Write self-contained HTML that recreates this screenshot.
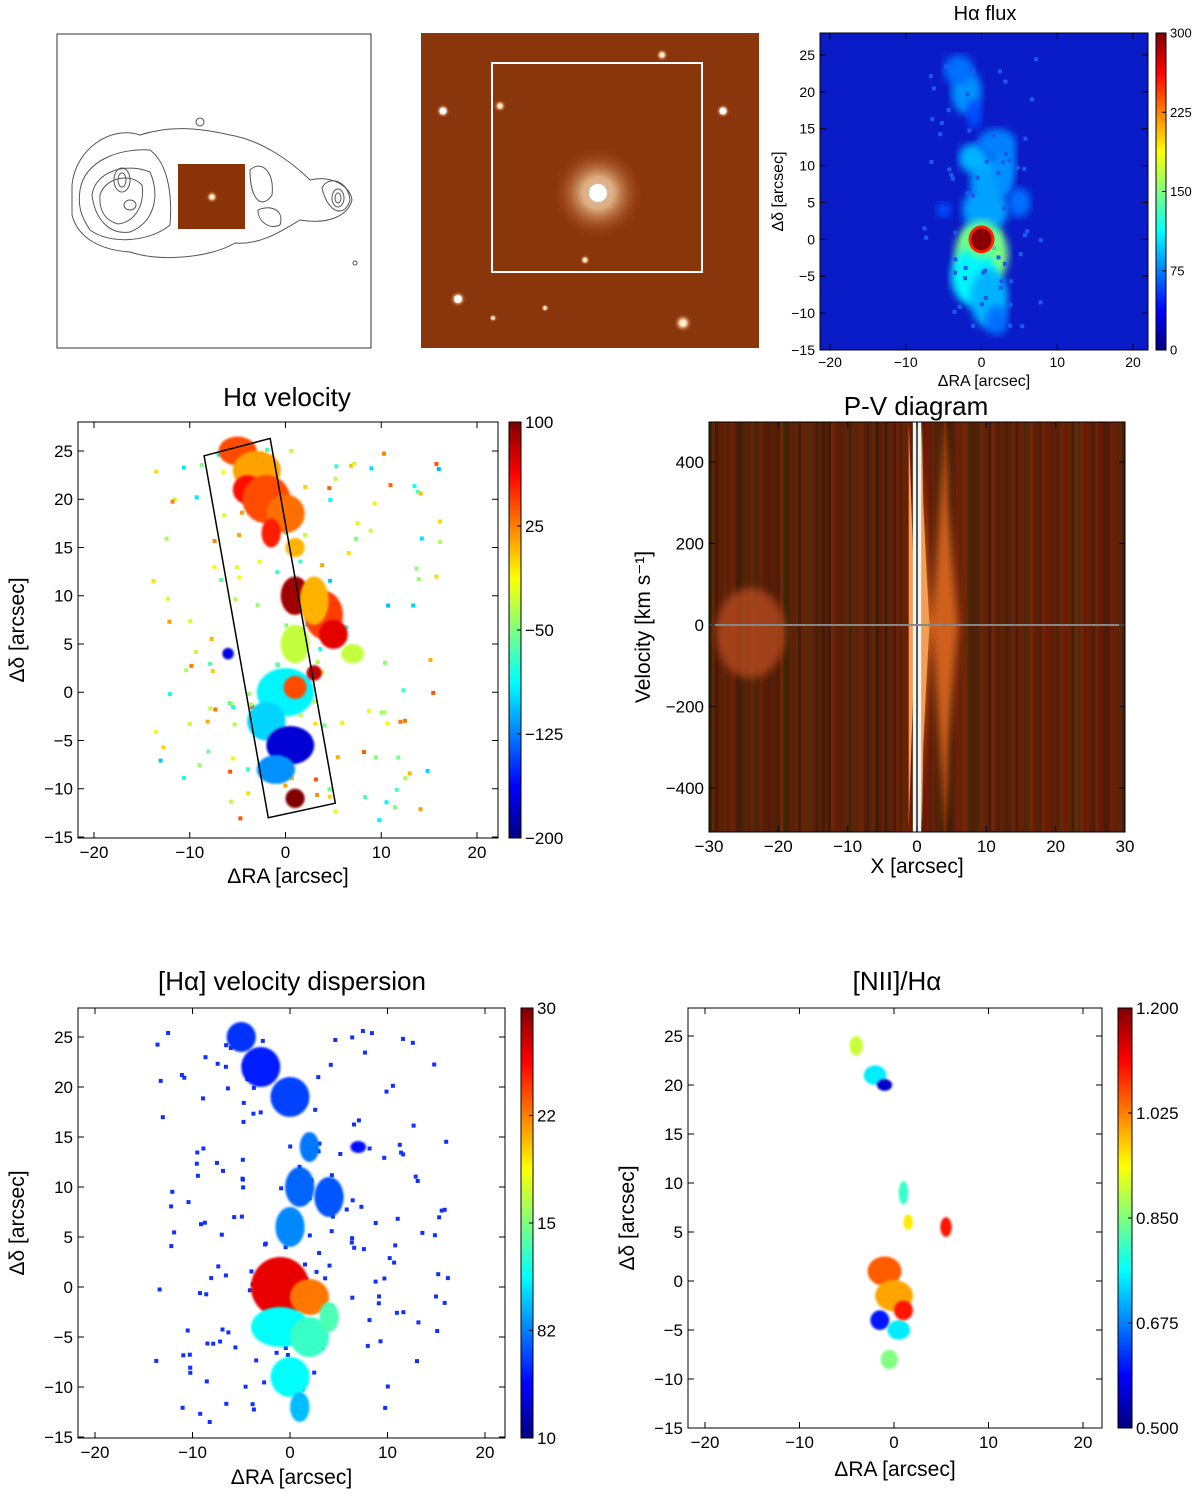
<!DOCTYPE html>
<html><head><meta charset="utf-8"><style>
html,body{margin:0;padding:0;background:#fff;width:1200px;height:1498px;overflow:hidden}
svg{display:block;font-family:"Liberation Sans",sans-serif}
</style></head><body>
<svg id="fig" width="1200" height="1498" viewBox="0 0 1200 1498" xmlns="http://www.w3.org/2000/svg">
<defs>
<linearGradient id="jet" x1="0" y1="1" x2="0" y2="0">
<stop offset="0" stop-color="#00007f"/><stop offset="0.125" stop-color="#0000ff"/><stop offset="0.375" stop-color="#00ffff"/><stop offset="0.5" stop-color="#7fff7f"/><stop offset="0.625" stop-color="#ffff00"/><stop offset="0.875" stop-color="#ff0000"/><stop offset="1" stop-color="#7f0000"/>
</linearGradient>
<radialGradient id="glow"><stop offset="0" stop-color="#fff"/><stop offset="0.35" stop-color="#ffe0b0"/><stop offset="1" stop-color="#b0400f" stop-opacity="0"/></radialGradient>
<filter id="blur1"><feGaussianBlur stdDeviation="1"/></filter>
<filter id="blur4"><feGaussianBlur stdDeviation="4"/></filter>
</defs>

<g>
<rect x="57" y="34" width="314" height="314" fill="#fff" stroke="#333" stroke-width="1"/>
<g fill="none" stroke="#555" stroke-width="1">
<path d="M72,185 C75,150 110,125 140,135 C170,125 200,128 230,135 C260,140 290,160 310,180 C330,175 350,185 352,200 C348,215 330,225 300,220 C280,232 260,245 235,243 C210,258 160,262 130,252 C100,250 78,238 72,215 Z"/>
<path d="M80,190 C85,160 120,148 150,150 C170,165 172,200 170,225 C150,242 110,245 90,230 C80,215 78,205 80,190 Z"/>
<path d="M92,195 C95,172 125,162 150,172 C160,195 155,222 130,232 C110,235 95,220 92,195 Z"/>
<path d="M100,195 C105,178 130,172 142,185 C145,205 135,222 118,224 C104,220 99,210 100,195 Z"/>
<ellipse cx="122" cy="180" rx="8" ry="12"/><ellipse cx="122" cy="180" rx="4" ry="7"/><ellipse cx="130" cy="205" rx="6" ry="5"/>
<path d="M250,170 C260,160 275,170 272,195 C262,210 250,200 250,170 Z"/>
<path d="M258,210 C268,205 285,208 280,225 C270,230 258,222 258,210 Z"/>
<path d="M322,188 C328,175 348,180 350,200 C345,218 328,214 322,188 Z"/>
<ellipse cx="338" cy="198" rx="6" ry="9"/><ellipse cx="338" cy="198" rx="3" ry="5"/>
<circle cx="200" cy="122" r="4"/><circle cx="355" cy="263" r="2"/>
</g>
<rect x="178" y="164" width="67" height="65" fill="#8a3208"/>
<circle cx="212" cy="197" r="6" fill="url(#glow)"/>
</g>

<g>
<rect x="421" y="33" width="338" height="315" fill="#8a360c"/>
<circle cx="598" cy="193" r="45" fill="url(#glow)" opacity="0.7"/>
<circle cx="598" cy="193" r="9" fill="#fff"/>
<circle cx="443" cy="111" r="7" fill="url(#glow)"/><circle cx="443" cy="111" r="3.5" fill="#fff"/>
<circle cx="458" cy="299" r="8" fill="url(#glow)"/><circle cx="458" cy="299" r="4" fill="#fff"/>
<circle cx="723" cy="111" r="7" fill="url(#glow)"/><circle cx="723" cy="111" r="3.5" fill="#fff"/>
<circle cx="662" cy="55" r="6" fill="url(#glow)"/><circle cx="500" cy="106" r="6" fill="url(#glow)"/>
<circle cx="683" cy="323" r="9" fill="url(#glow)"/><circle cx="585" cy="260" r="5" fill="url(#glow)"/>
<circle cx="493" cy="318" r="4" fill="url(#glow)"/><circle cx="545" cy="308" r="4" fill="url(#glow)"/>
<rect x="492" y="63" width="210" height="209" fill="none" stroke="#fff" stroke-width="2"/>
</g>

<g id="dyn"></g>
</svg>
<script>
const fluxBlobs = [ // [ra, dec, rx, ry, flux]
 [0,-2,3.5,4.5,150],[-1,-5,3,4,110],[1,-8,2.5,4,90],[2,-11,1.5,2,70],
 [0.5,4,3,3,85],[1,8,2.5,3,85],[3,10,1.5,4,80],[-1,11,2,2,90],[2,13,2.5,2,75],[-2,20,2,3,80],[-3,23,2,2,70],[-1,17,1,2,60],[5,5,1.5,2,70],[-5,4,1,1,60]];
const velBlobs = [ // [ra, dec, rx, ry, velocity]
 [-5,25,2,1.5,40],[-3,23,2.5,2,15],[-4,21,1.5,1.5,60],[-2,20,2.5,2.5,40],[0,18.5,2,2,30],[-1.5,16.5,1,1.5,55],[1,15,1,1,10],
 [1,10,1.5,2,90],[4,8,2,2.5,45],[5,6,1.5,1.5,70],[3,9.5,1.5,2.5,10],[1,5,1.5,2,-30],[-6,4,0.6,0.6,-170],[7,4,1.2,1,-30],
 [0,0,3,2.5,-90],[1,0.5,1.2,1.2,40],[-2,-3,2,2,-100],[0.5,-5.5,2.5,2,-175],[-1,-8,2,1.5,-120],[1,-11,1,1,100],[3,2,0.8,0.8,80]];
const dispBlobs = [ // [ra, dec, rx, ry, sigma]
 [-5,25,1.5,1.5,60],[-3,22,2,2,55],[0,19,2,2,65],[2,14,1,1.5,80],[1,10,1.5,2,75],[4,9,1.5,2,70],[0,6,1.5,2,85],
 [7,14,0.8,0.6,50],[-1,0,3,3,270],[2,-1,2,1.8,230],[-1,-4,3,2,120],[2,-5,2,2,135],[0,-9,2,2,120],[1,-12,1,1.5,100],[4,-3,1,1.5,140]];
const niiBlobs = [ // [ra, dec, rx, ry, ratio]
 [-4,24,0.7,1,0.9],[-2,21,1.2,1,0.75],[-1,20,0.8,0.6,0.55],[1,9,0.5,1.2,0.8],[1.5,6,0.5,0.8,0.95],[5.5,5.5,0.6,1,1.1],
 [-1,1,1.8,1.5,1.05],[0,-1.5,2,1.6,1.0],[-1.5,-4,1,1,0.6],[0.5,-5,1.2,1,0.75],[1,-3,1,1,1.1],[-0.5,-8,0.9,1,0.85]];
const pvCurve = [ // [velocity, X offset]
 [-500,1.2],[-300,1.5],[-150,2.2],[0,3],[150,2.2],[300,1.5],[500,1.2]];
const cbFluxTicks=["300","225","150","75","0"];
const cbVelTicks=["100","25","\u221250","\u2212125","\u2212200"];
const cbDispTicks=["30","22","15","82","10"];
const cbNiiTicks=["1.200","1.025","0.850","0.675","0.500"];

const NS="http://www.w3.org/2000/svg";
const root=document.getElementById('dyn');
function el(tag,attrs,parent){const e=document.createElementNS(NS,tag);for(const k in attrs)e.setAttribute(k,attrs[k]);(parent||root).appendChild(e);return e;}
function jet(t){t=Math.max(0,Math.min(1,t));const c=v=>Math.round(255*Math.max(0,Math.min(1,v)));return `rgb(${c(1.5-Math.abs(4*t-3))},${c(1.5-Math.abs(4*t-2))},${c(1.5-Math.abs(4*t-1))})`;}
function lin(d0,d1,r0,r1){return v=>r0+(v-d0)*(r1-r0)/(d1-d0);}
function txt(x,y,s,size,anchor,g,name){const t=el('text',{x:x,y:y,'font-size':size,'text-anchor':anchor||'middle',fill:'#000'},g);t.textContent=s;return t;}

function axesPanel(cfg){
 const g=el('g',{});
 
 
 const X=lin(cfg.xd[0],cfg.xd[1],cfg.xr[0],cfg.xr[1]), Y=lin(cfg.yd[0],cfg.yd[1],cfg.yr[0],cfg.yr[1]);
 const x0=cfg.box[0],y0=cfg.box[1],x1=cfg.box[2],y1=cfg.box[3];
 el('rect',{x:x0,y:y0,width:x1-x0,height:y1-y0,fill:cfg.bg||'#fff'},g);
 const mg=el('g',{},g);
 return {g,mg,X,Y,x0,y0,x1,y1};
}
function finishAxes(p,cfg){
 const g=p.g;
 el('rect',{x:p.x0,y:p.y0,width:p.x1-p.x0,height:p.y1-p.y0,fill:'none',stroke:'#000','stroke-width':1},g);
 cfg.xt.forEach(v=>{const x=p.X(v);el('line',{x1:x,x2:x,y1:p.y1,y2:p.y1-6,stroke:'#000'},g);el('line',{x1:x,x2:x,y1:p.y0,y2:p.y0+6,stroke:'#000'},g);
  txt(x,p.y1+cfg.fs+3,String(v).replace('-','\u2212'),cfg.fs,'middle',g,'x-tick-label');});
 cfg.yt.forEach(v=>{const y=p.Y(v);el('line',{x1:p.x0,x2:p.x0+6,y1:y,y2:y,stroke:'#000'},g);el('line',{x1:p.x1,x2:p.x1-6,y1:y,y2:y,stroke:'#000'},g);
  txt(p.x0-5,y+cfg.fs*0.35,String(v).replace('-','\u2212'),cfg.fs,'end',g,'y-tick-label');});
 if(cfg.xl)txt((p.x0+p.x1)/2,cfg.xl[1],cfg.xl[0],cfg.ls,'middle',g,'x-axis-title');
 if(cfg.yl){const t=txt(cfg.yl[1],(p.y0+p.y1)/2,cfg.yl[0],cfg.ls,'middle',g,'y-axis-title');t.setAttribute('transform',`rotate(-90 ${cfg.yl[1]} ${(p.y0+p.y1)/2})`);}
 if(cfg.title)txt(cfg.title[1],cfg.title[2],cfg.title[0],cfg.ts,'middle',g,'plot-title');
}
function colorbar(x,y0,w,y1,ticks,fs,name){
 const g=el('g',{});
 
 
 el('rect',{x:x,y:y0,width:w,height:y1-y0,fill:'url(#jet)',stroke:'#000'},g);
 ticks.forEach((s,i)=>{const y=y0+i*(y1-y0)/(ticks.length-1);el('line',{x1:x+w-4,x2:x+w,y1:y,y2:y,stroke:'#000'},g);txt(x+w+4,y+fs*0.35,s,fs,'start',g,'colorbar-tick');});
}
function blobs(p,arr,vmin,vmax,name,filter){
 arr.forEach(b=>{const e=el('ellipse',{cx:p.X(b[0]),cy:p.Y(b[1]),rx:Math.abs(p.X(b[2])-p.X(0)),ry:Math.abs(p.Y(b[3])-p.Y(0)),fill:jet((b[4]-vmin)/(vmax-vmin)),filter:filter||'url(#blur1)'},p.mg);
  
  });
}
let seed=12345;function rnd(){seed=(seed*9301+49297)%233280;return seed/233280;}
function speckle(p,n,colFn,range,sz){for(let i=0;i<n;i++){const ra=range[0]+rnd()*(range[1]-range[0]),de=range[2]+rnd()*(range[3]-range[2]);
 el('rect',{x:p.X(ra).toFixed(1),y:p.Y(de).toFixed(1),width:sz,height:sz,fill:colFn()},p.mg);}}

{const cfg={name:'halpha-flux-panel',box:[820,33,1148,350],xd:[-20,20],xr:[830,1133],yd:[25,-15],yr:[55,350],xt:[-20,-10,0,10,20],yt:[25,20,15,10,5,0,-5,-10,-15],fs:14,ls:16,
 xl:['\u0394RA [arcsec]',386],yl:['\u0394\u03b4 [arcsec]',783],title:['H\u03b1 flux',985,20],ts:20,bg:'#0a1cc8'};
 const p=axesPanel(cfg);
 blobs(p,fluxBlobs,0,300,'flux-blob','url(#blur4)');
 speckle(p,60,()=>'#1e5af0',[-8,8,-12,26],4);
 el('ellipse',{cx:p.X(0),cy:p.Y(0),rx:18,ry:19,fill:'#60ff90',filter:'url(#blur4)'},p.mg);
 el('ellipse',{cx:p.X(0),cy:p.Y(0),rx:13,ry:14,fill:'#ff2000'},p.mg);
 el('ellipse',{cx:p.X(0),cy:p.Y(0),rx:10,ry:11,fill:'#8a0000'},p.mg);
 finishAxes(p,cfg);
 colorbar(1156,33,10,350,cbFluxTicks,13,'flux-colorbar');}

{const cfg={name:'halpha-velocity-panel',box:[78,422,498,838],xd:[-20,20],xr:[94,477],yd:[25,-15],yr:[451,837],xt:[-20,-10,0,10,20],yt:[25,20,15,10,5,0,-5,-10,-15],fs:17,ls:21,
 xl:['\u0394RA [arcsec]',883],yl:['\u0394\u03b4 [arcsec]',24],title:['H\u03b1 velocity',287,406],ts:26};
 const p=axesPanel(cfg);
 speckle(p,150,()=>jet(0.3+rnd()*0.5),[-14,16,-14,26],4);
 blobs(p,velBlobs,-200,100,'velocity-blob');
 el('polygon',{points:`${p.X(-8.5)},${p.Y(24.5)} ${p.X(-1.6)},${p.Y(26.3)} ${p.X(5.2)},${p.Y(-11.5)} ${p.X(-1.8)},${p.Y(-13)}`,fill:'none',stroke:'#000','stroke-width':1.5},p.g);
 finishAxes(p,cfg);
 colorbar(509,422,12,838,cbVelTicks,17,'velocity-colorbar');}

{const cfg={name:'pv-diagram-panel',box:[709,422,1125,832],xd:[-30,30],xr:[709,1125],yd:[400,-400],yr:[462,788],xt:[-30,-20,-10,0,10,20,30],yt:[400,200,0,-200,-400],fs:17,ls:21,
 xl:['X [arcsec]',873],yl:['Velocity [km s\u207b\u00b9]',650],title:['P-V diagram',916,415],ts:26,bg:'#6a2a0c'};
 const p=axesPanel(cfg);
 for(let i=0;i<140;i++){const x=709+i*416/140;el('rect',{x:x.toFixed(1),y:422,width:3,height:410,fill:`rgba(${Math.round(40+rnd()*80)},${Math.round(15+rnd()*25)},5,${(0.4+rnd()*0.4).toFixed(2)})`},p.mg);}
 el('ellipse',{cx:p.X(-24),cy:p.Y(-20),rx:35,ry:45,fill:'#c05020',filter:'url(#blur4)',opacity:0.7},p.mg);
 const pts=pvCurve.map(d=>`${p.X(d[1]+3)},${p.Y(d[0])}`);
 el('polygon',{points:`${p.X(0)},${p.Y(500)} ${pts.join(' ')} ${p.X(0)},${p.Y(-500)}`,fill:'#d0601e',filter:'url(#blur4)'},p.mg);
 const ptsL=pvCurve.map(d=>`${p.X(d[1]*0.6)},${p.Y(d[0])}`);
 el('polygon',{points:`${p.X(-1.2)},${p.Y(500)} ${ptsL.join(' ')} ${p.X(-1.2)},${p.Y(-500)}`,fill:'#f0a050'},p.mg);
 el('rect',{x:p.X(-0.6),y:422,width:p.X(0.6)-p.X(-0.6),height:410,fill:'#f4f4f4'},p.mg);
 el('line',{x1:p.X(0),x2:p.X(0),y1:422,y2:832,stroke:'#222','stroke-width':1.5},p.mg);
 el('line',{x1:709,x2:1125,y1:p.Y(0),y2:p.Y(0),stroke:'#888','stroke-width':2},p.mg);
 finishAxes(p,cfg);}

{const cfg={name:'velocity-dispersion-panel',box:[78,1008,505,1438],xd:[-20,20],xr:[95,485],yd:[25,-15],yr:[1037,1437],xt:[-20,-10,0,10,20],yt:[25,20,15,10,5,0,-5,-10,-15],fs:17,ls:21,
 xl:['\u0394RA [arcsec]',1484],yl:['\u0394\u03b4 [arcsec]',24],title:['[H\u03b1] velocity dispersion',292,990],ts:26};
 const p=axesPanel(cfg);
 speckle(p,170,()=>'#1030ff',[-14,16,-14,26],4);
 blobs(p,dispBlobs,10,300,'dispersion-blob');
 finishAxes(p,cfg);
 colorbar(521,1008,12,1438,cbDispTicks,17,'dispersion-colorbar');}

{const cfg={name:'nii-halpha-panel',box:[688,1008,1102,1428],xd:[-20,20],xr:[705,1083],yd:[25,-15],yr:[1036,1428],xt:[-20,-10,0,10,20],yt:[25,20,15,10,5,0,-5,-10,-15],fs:17,ls:21,
 xl:['\u0394RA [arcsec]',1476],yl:['\u0394\u03b4 [arcsec]',634],title:['[NII]/H\u03b1',897,990],ts:26};
 const p=axesPanel(cfg);
 blobs(p,niiBlobs,0.5,1.2,'ratio-blob');
 finishAxes(p,cfg);
 colorbar(1118,1008,14,1428,cbNiiTicks,17,'ratio-colorbar');}
</script>
</body></html>
